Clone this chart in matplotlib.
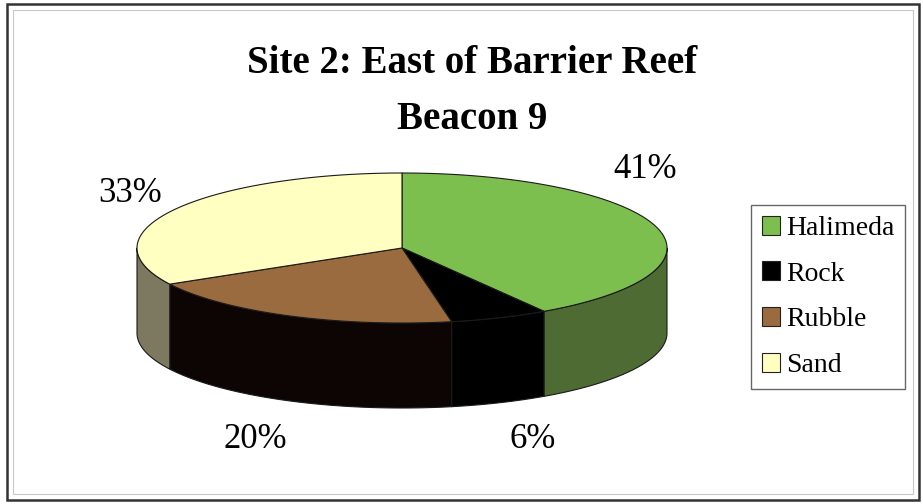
import numpy as np
import matplotlib.pyplot as plt
from matplotlib.patches import Polygon, Patch, Rectangle

categories = ['Halimeda', 'Rock', 'Rubble', 'Sand']
percentages = [41, 6, 20, 33]
top_colors = ['#7dbf4f', '#000000', '#9a6b3f', '#ffffc2']
side_colors = ['#4d6b33', '#000000', '#0c0503', '#7d7860']

# label anchors (pixels) for each slice
label_pos = [(645, 170), (533, 440), (255, 440), (130, 194)]

# pie geometry in pixels: centre, radii of the tilted top, wall height
cx, cy = 402, 248
rx, ry = 265, 75
depth = 85


def rim(t, dz=0):
    return cx + rx * np.sin(t), cy - ry * np.cos(t) + dz


fig = plt.figure(figsize=(9.23, 5.04), dpi=100)
ax = fig.add_axes([0, 0, 1, 1])
ax.set_xlim(0, 923)
ax.set_ylim(504, 0)
ax.axis('off')

fracs = np.array(percentages, dtype=float) / sum(percentages)
bounds = np.concatenate([[0], np.cumsum(fracs)]) * 2 * np.pi

# side walls: only the front half (pi/2 .. 3pi/2) faces the viewer
for i in range(len(categories)):
    t0 = max(bounds[i], np.pi / 2)
    t1 = min(bounds[i + 1], 3 * np.pi / 2)
    if t1 <= t0:
        continue
    t = np.linspace(t0, t1, 80)
    xt, yt = rim(t)
    xb, yb = rim(t[::-1], depth)
    pts = np.column_stack([np.concatenate([xt, xb]), np.concatenate([yt, yb])])
    ax.add_patch(Polygon(pts, closed=True, facecolor=side_colors[i],
                         edgecolor='#1a1a1a', lw=0.8, joinstyle='round'))

# top faces
for i in range(len(categories)):
    t = np.linspace(bounds[i], bounds[i + 1], 120)
    xs, ys = rim(t)
    pts = np.column_stack([np.concatenate([[cx], xs]), np.concatenate([[cy], ys])])
    ax.add_patch(Polygon(pts, closed=True, facecolor=top_colors[i],
                         edgecolor='#1a1a1a', lw=0.8, joinstyle='round'))

# percentage labels
for v, (lx, ly) in zip(percentages, label_pos):
    ax.text(lx, ly, f'{v}%', fontsize=25, family='Liberation Serif',
            ha='center', va='center')

# title
ax.text(472, 73, 'Site 2: East of Barrier Reef', fontsize=28, fontweight='bold',
        family='Liberation Serif', ha='center', va='baseline')
ax.text(472, 129, 'Beacon 9', fontsize=28, fontweight='bold',
        family='Liberation Serif', ha='center', va='baseline')

# legend
handles = [Patch(facecolor=c, edgecolor='#222222', lw=0.8) for c in top_colors]
leg = ax.legend(handles, categories, loc='upper left',
                bbox_to_anchor=(751 / 923, 1 - 205 / 504), borderaxespad=0,
                prop={'family': 'Liberation Serif', 'size': 20},
                handlelength=0.68, handleheight=0.68, handletextpad=0.22,
                labelspacing=0.74, borderpad=0.38, fancybox=False,
                frameon=True, framealpha=1)
leg.get_frame().set_edgecolor('#666666')
leg.get_frame().set_linewidth(1.0)

# chart frame
ax.add_patch(Rectangle((7, 4), 912, 496, fill=False, edgecolor='#333333', lw=1.8))
ax.add_patch(Rectangle((13, 10), 900, 484, fill=False, edgecolor='#c8c8c8', lw=0.8))

fig.savefig('out.png', dpi=100)
